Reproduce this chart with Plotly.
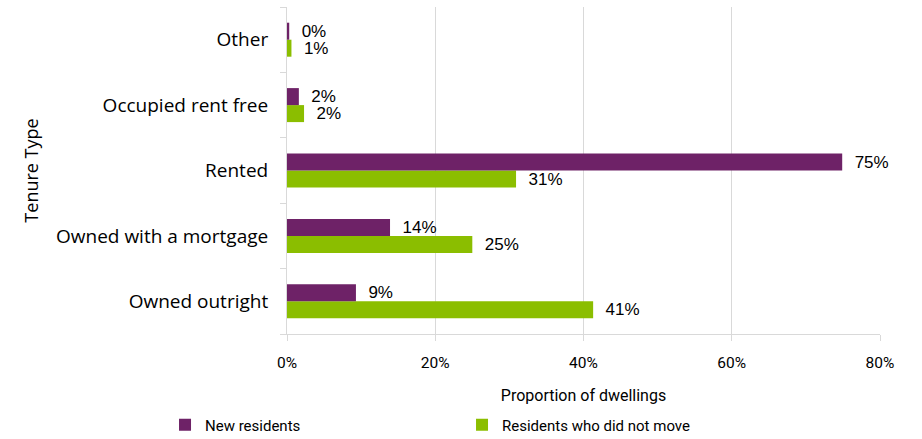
import plotly.graph_objects as go

categories = ["Owned outright", "Owned with a mortgage", "Rented", "Occupied rent free", "Other"]
new_residents = [0.093, 0.139, 0.749, 0.016, 0.003]
did_not_move = [0.413, 0.250, 0.309, 0.023, 0.006]
x_ticks = [0, 0.2, 0.4, 0.6, 0.8]
x_tick_labels = ["0%", "20%", "40%", "60%", "80%"]

PURPLE = "#6E2267"
GREEN = "#8BBE00"
GRID = "#D9D9D9"
NARROW = "Liberation Sans Narrow, Roboto, sans-serif"
LABEL_FONT = dict(family="Liberation Sans, Arial, sans-serif", size=17, color="#000000")

fig = go.Figure()
fig.add_trace(go.Bar(
    y=categories, x=did_not_move, orientation="h", name="Residents who did not move",
    marker=dict(color=GREEN, line=dict(width=0)), legendrank=2,
    texttemplate="\u00a0\u00a0%{x:.0%}", textposition="outside", cliponaxis=False,
    constraintext="none", textfont=LABEL_FONT,
))
fig.add_trace(go.Bar(
    y=categories, x=new_residents, orientation="h", name="New residents",
    marker=dict(color=PURPLE, line=dict(width=0)), legendrank=1,
    texttemplate="\u00a0\u00a0%{x:.0%}", textposition="outside", cliponaxis=False,
    constraintext="none", textfont=LABEL_FONT,
))

fig.update_layout(
    width=922, height=439,
    margin=dict(l=287, r=42, t=7, b=105, autoexpand=False),
    paper_bgcolor="white", plot_bgcolor="white",
    barmode="group", bargap=0.48, bargroupgap=0,
    showlegend=True,
    legend=dict(orientation="h", x=-0.2057, xanchor="left", y=-0.278, yanchor="middle",
                entrywidth=252, entrywidthmode="pixels", itemwidth=30,
                font=dict(family=NARROW, size=15, color="#000000"),
                traceorder="normal"),
    xaxis=dict(range=[0, 0.8], tickvals=x_ticks, ticktext=x_tick_labels, automargin=False,
               showgrid=True, gridcolor=GRID, gridwidth=1, zeroline=False,
               showline=True, linecolor=GRID, linewidth=1,
               ticks="outside", ticklen=6, tickcolor=GRID,
               ticklabelstandoff=8,
               tickfont=dict(family=NARROW, size=15.5, color="#000000"),
               title=dict(text="Proportion of dwellings", standoff=19,
                          font=dict(family=NARROW, size=16, color="#000000"))),
    yaxis=dict(showgrid=False, zeroline=False, showline=True, linecolor=GRID, linewidth=1,
               automargin=False,
               ticks="outside", ticklen=6, tickcolor=GRID, tickson="boundaries",
               ticklabelstandoff=14,
               tickfont=dict(family="Open Sans, sans-serif", size=19, color="#000000"),
               title=dict(text="Tenure Type", standoff=12,
                          font=dict(family="Open Sans, sans-serif", size=18, color="#000000"))),
)

fig.write_html(
    "out.html",
    config={"displayModeBar": False},
    post_script="document.body.style.margin='0';document.body.style.padding='0';",
)
